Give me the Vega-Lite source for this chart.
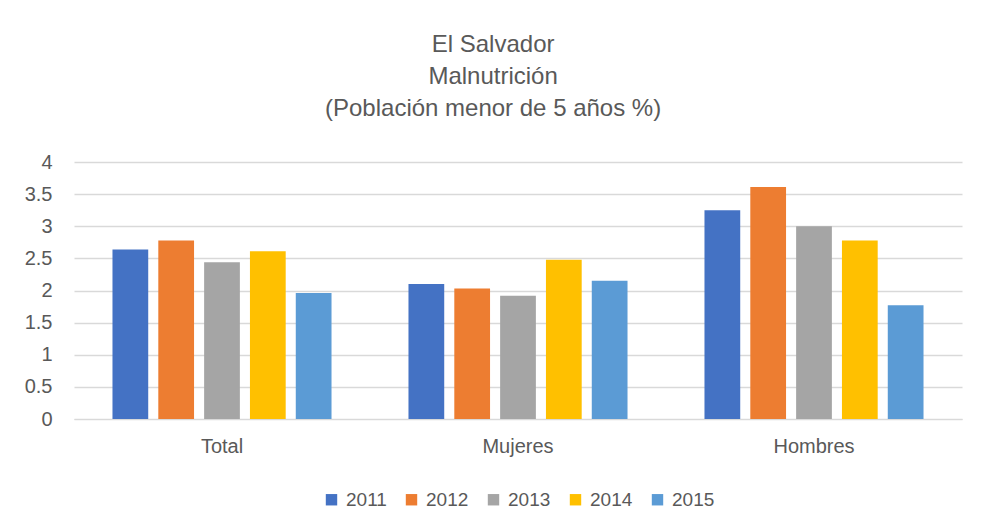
{
  "$schema": "https://vega.github.io/schema/vega-lite/v6.json",
  "autosize": {"type": "none"},
  "width": 888,
  "height": 257,
  "padding": {"left": 74, "top": 162, "right": 20, "bottom": 111},
  "background": "white",
  "title": {
    "text": ["El Salvador", "Malnutrición", "(Población menor de 5 años %)"],
    "anchor": "middle",
    "frame": "bounds",
    "font": "Liberation Sans",
    "fontSize": 24,
    "fontWeight": "normal",
    "color": "#595959",
    "lineHeight": 32,
    "offset": 31
  },
  "data": {
    "values": [
      {"grupo": "Total", "anio": "2011", "valor": 2.64},
      {"grupo": "Total", "anio": "2012", "valor": 2.78},
      {"grupo": "Total", "anio": "2013", "valor": 2.44},
      {"grupo": "Total", "anio": "2014", "valor": 2.61},
      {"grupo": "Total", "anio": "2015", "valor": 1.96},
      {"grupo": "Mujeres", "anio": "2011", "valor": 2.10},
      {"grupo": "Mujeres", "anio": "2012", "valor": 2.03},
      {"grupo": "Mujeres", "anio": "2013", "valor": 1.92},
      {"grupo": "Mujeres", "anio": "2014", "valor": 2.48},
      {"grupo": "Mujeres", "anio": "2015", "valor": 2.15},
      {"grupo": "Hombres", "anio": "2011", "valor": 3.25},
      {"grupo": "Hombres", "anio": "2012", "valor": 3.61},
      {"grupo": "Hombres", "anio": "2013", "valor": 3.0},
      {"grupo": "Hombres", "anio": "2014", "valor": 2.78},
      {"grupo": "Hombres", "anio": "2015", "valor": 1.77}
    ]
  },
  "mark": {"type": "bar"},
  "encoding": {
    "x": {
      "field": "grupo",
      "type": "nominal",
      "sort": ["Total", "Mujeres", "Hombres"],
      "scale": {"paddingInner": 0.26, "paddingOuter": 0.13},
      "axis": {
        "title": null,
        "labelAngle": 0,
        "ticks": false,
        "domainColor": "#d9d9d9",
        "domainWidth": 1,
        "labelFont": "Liberation Sans",
        "labelFontSize": 20,
        "labelColor": "#595959",
        "labelPadding": 17
      }
    },
    "xOffset": {
      "field": "anio",
      "type": "nominal",
      "scale": {"paddingInner": 0.22, "paddingOuter": 0}
    },
    "y": {
      "field": "valor",
      "type": "quantitative",
      "scale": {"domain": [0, 4], "nice": false},
      "axis": {
        "title": null,
        "values": [0, 0.5, 1, 1.5, 2, 2.5, 3, 3.5, 4],
        "format": "~g",
        "domain": false,
        "ticks": false,
        "gridColor": "#d9d9d9",
        "gridWidth": 1.5,
        "labelFont": "Liberation Sans",
        "labelFontSize": 20,
        "labelColor": "#595959",
        "labelPadding": 22
      }
    },
    "color": {
      "field": "anio",
      "type": "nominal",
      "scale": {
        "domain": ["2011", "2012", "2013", "2014", "2015"],
        "range": ["#4472C4", "#ED7D31", "#A5A5A5", "#FFC000", "#5B9BD5"]
      },
      "legend": {
        "title": null,
        "orient": "bottom",
        "direction": "horizontal",
        "symbolType": "square",
        "symbolSize": 130,
        "symbolStrokeWidth": 0,
        "labelFont": "Liberation Sans",
        "labelFontSize": 19,
        "labelColor": "#595959",
        "columnPadding": 15,
        "symbolOffset": 0,
        "labelOffset": 5,
        "offset": 34
      }
    }
  },
  "config": {
    "view": {"stroke": null},
    "legend": {"layout": {"bottom": {"anchor": "middle"}}}
  }
}
